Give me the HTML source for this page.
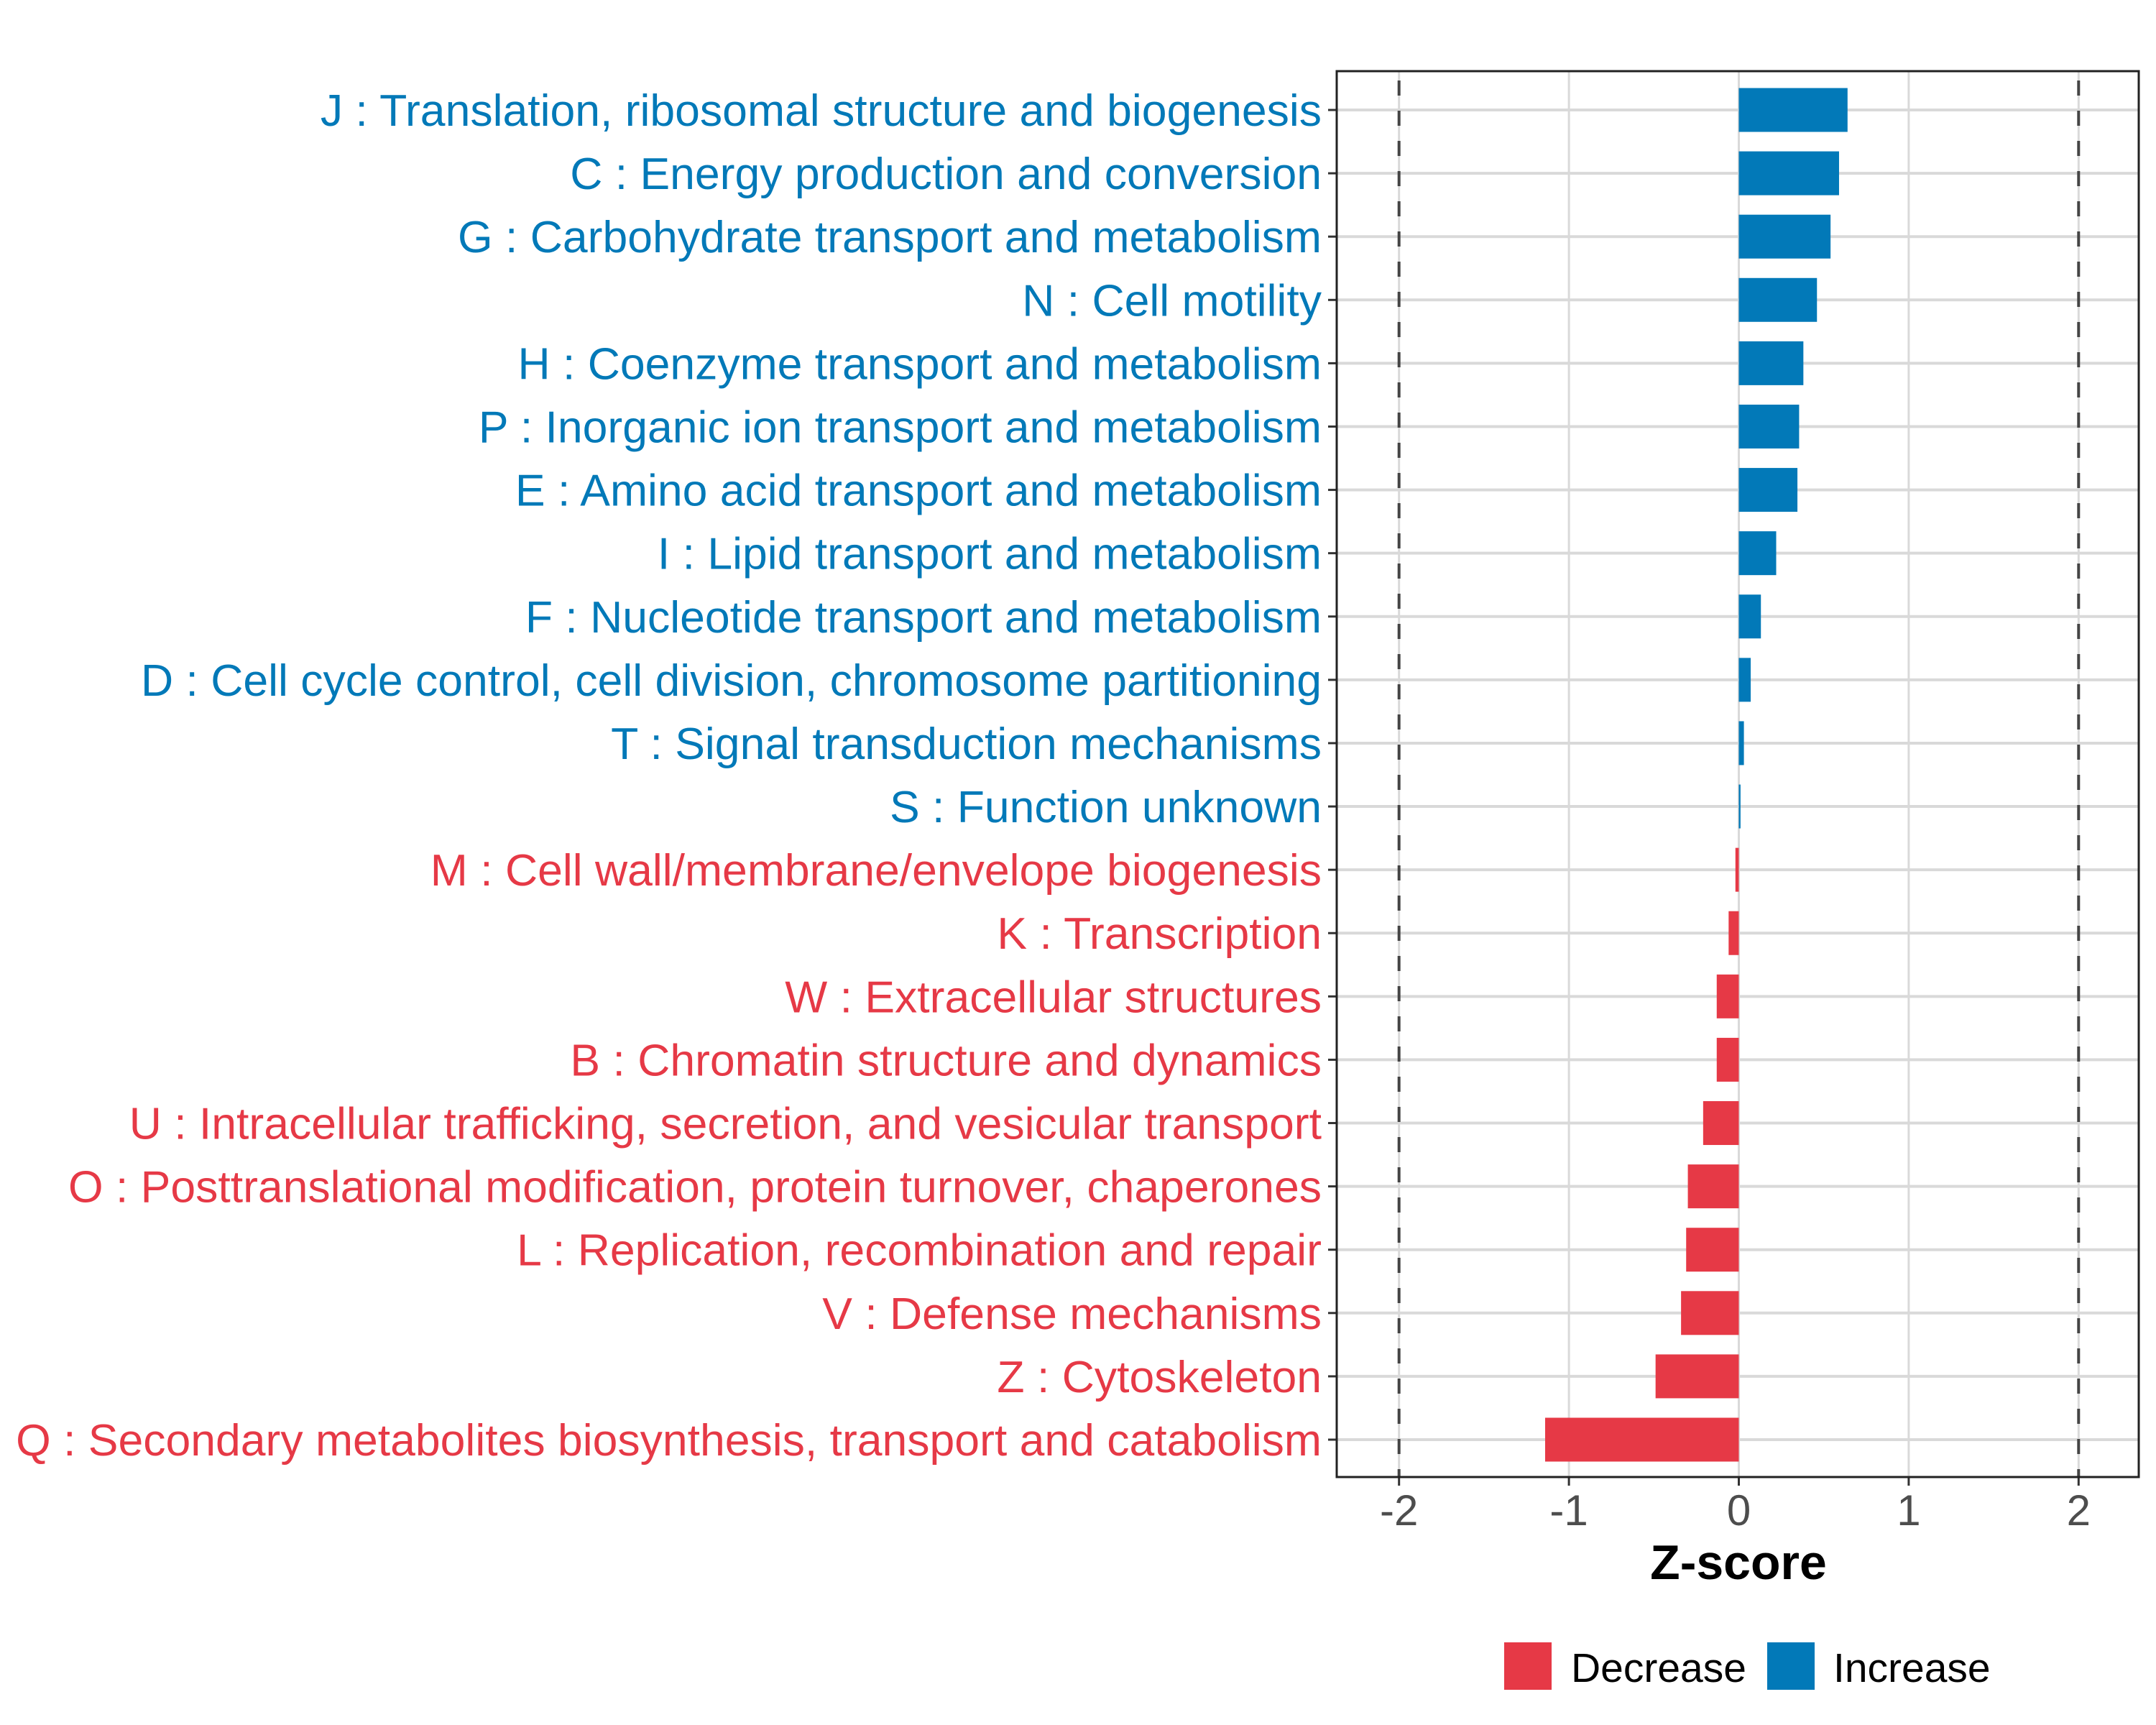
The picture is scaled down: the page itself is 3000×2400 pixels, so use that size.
<!DOCTYPE html>
<html><head><meta charset="utf-8"><style>
html,body{margin:0;padding:0;background:#fff;}
svg{display:block;font-family:"Liberation Sans",sans-serif;}
</style></head><body>
<svg id="chart" width="3000" height="2400" viewBox="0 0 3000 2400" xmlns="http://www.w3.org/2000/svg">
<rect width="3000" height="2400" fill="#fff"/>
<g id="grid"></g><g id="bars"></g><g id="ylabels"></g><g id="xticks"></g>
<rect x="1860" y="99" width="1116" height="1956" fill="none" stroke="#222" stroke-width="3"/>
<text x="2419" y="2197" font-size="68" font-weight="bold" text-anchor="middle" fill="#000">Z-score</text>
<g>
<rect x="2093" y="2285" width="66" height="66" fill="#E63946"/>
<text x="2186" y="2340" font-size="57" fill="#000">Decrease</text>
<rect x="2459" y="2285" width="66" height="66" fill="#0279B8"/>
<text x="2551" y="2340" font-size="57" fill="#000">Increase</text>
</g>
</svg>
<script>
const categories = ["J : Translation, ribosomal structure and biogenesis","C : Energy production and conversion","G : Carbohydrate transport and metabolism","N : Cell motility","H : Coenzyme transport and metabolism","P : Inorganic ion transport and metabolism","E : Amino acid transport and metabolism","I : Lipid transport and metabolism","F : Nucleotide transport and metabolism","D : Cell cycle control, cell division, chromosome partitioning","T : Signal transduction mechanisms","S : Function unknown","M : Cell wall/membrane/envelope biogenesis","K : Transcription","W : Extracellular structures","B : Chromatin structure and dynamics","U : Intracellular trafficking, secretion, and vesicular transport","O : Posttranslational modification, protein turnover, chaperones","L : Replication, recombination and repair","V : Defense mechanisms","Z : Cytoskeleton","Q : Secondary metabolites biosynthesis, transport and catabolism"];
const zscores = [0.64,0.59,0.54,0.46,0.38,0.355,0.345,0.22,0.13,0.07,0.03,0.01,-0.02,-0.06,-0.13,-0.13,-0.21,-0.30,-0.31,-0.34,-0.49,-1.14];
const xTicks = [-2,-1,0,1,2];
const xTickLabels = ["-2","-1","0","1","2"];
const thresholds = [-2,2];

const NS="http://www.w3.org/2000/svg";
const x0=2419.5, unit=236.4, panelTop=99, panelBottom=2055, panelLeft=1860, panelRight=2976;
const xs=v=>x0+v*unit;
const rowTop=153, rowStep=(2003-153)/(categories.length-1);
const ys=i=>rowTop+i*rowStep;
function mk(tag,attrs,parent){const e=document.createElementNS(NS,tag);for(const k in attrs)e.setAttribute(k,attrs[k]);parent.appendChild(e);return e;}
const grid=document.getElementById('grid'),bars=document.getElementById('bars'),yl=document.getElementById('ylabels'),xt=document.getElementById('xticks');
xTicks.forEach((t,i)=>{
  const g=mk('line',{x1:xs(t),x2:xs(t),y1:panelTop,y2:panelBottom,stroke:'#d9d9d9','stroke-width':3},grid);
  
  
  const tk=mk('line',{x1:xs(t),x2:xs(t),y1:panelBottom,y2:panelBottom+12,stroke:'#333','stroke-width':3},xt);
  
  
  const tl=mk('text',{x:xs(t),y:2122,'font-size':60,'text-anchor':'middle',fill:'#4d4d4d'},xt);
  tl.textContent=xTickLabels[i];
  
  
});
categories.forEach((c,i)=>{
  const y=ys(i);
  const g=mk('line',{x1:panelLeft,x2:panelRight,y1:y,y2:y,stroke:'#d9d9d9','stroke-width':4},grid);
  
  
  const v=zscores[i];
  const col=v>=0?'#0279B8':'#E63946';
  const b=mk('rect',{x:Math.min(xs(0),xs(v)),y:y-30.5,width:Math.abs(xs(v)-xs(0)),height:61,fill:col},bars);
  
  
  const tk=mk('line',{x1:panelLeft-12,x2:panelLeft,y1:y,y2:y,stroke:'#333','stroke-width':3},yl);
  
  
  const t=mk('text',{x:1839,y:y+22,'font-size':62.5,'text-anchor':'end',fill:col},yl);
  t.textContent=c;
  
  
});
thresholds.forEach(t=>{
  const l=mk('line',{x1:xs(t),x2:xs(t),y1:panelTop,y2:panelBottom,stroke:'#444','stroke-width':4,'stroke-dasharray':'21 21','stroke-dashoffset':-13},bars);
  
  
});
</script>
</body></html>
